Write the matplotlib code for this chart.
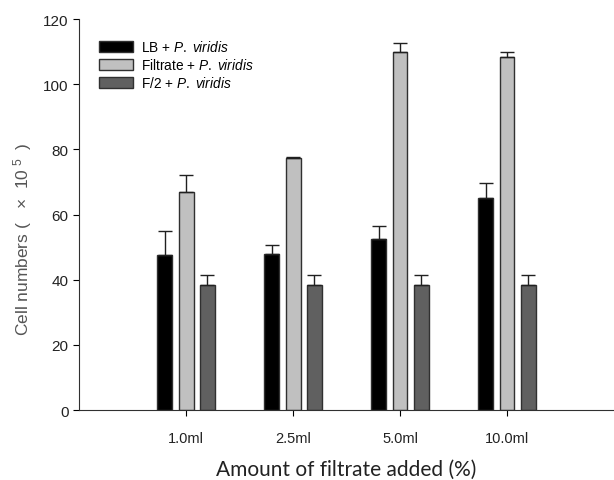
import numpy as np
import matplotlib
matplotlib.use('Agg')
from matplotlib import pyplot as plt
from matplotlib.patches import Patch

plt.rcParams['font.family'] = ['Liberation Sans', 'DejaVu Sans']
plt.rcParams['mathtext.fontset'] = 'custom'
plt.rcParams['mathtext.rm'] = 'Liberation Sans'
plt.rcParams['mathtext.it'] = 'Liberation Sans:italic'

doses = ['1.0ml', '2.5ml', '5.0ml', '10.0ml']
lb_mean = [47.7, 48.0, 52.5, 65.1]
lb_err = [7.3, 2.5, 4.1, 4.6]
filtrate_mean = [66.9, 77.3, 110.0, 108.3]
filtrate_err = [5.2, 0.3, 2.6, 1.7]
f2_mean = [38.5, 38.5, 38.5, 38.5]
f2_err = [2.9, 2.9, 2.9, 2.9]

series = [
    ('LB + ', lb_mean, lb_err, '#000000'),
    ('Filtrate + ', filtrate_mean, filtrate_err, '#c0c0c0'),
    ('F/2 + ', f2_mean, f2_err, '#606060'),
]

fig = plt.figure(figsize=(6.14, 4.81), dpi=100)
ax = fig.add_axes([0.1287, 0.1455, 0.8713, 0.8129])

x = np.arange(len(doses))
width = 0.14
offsets = [-0.2, 0.0, 0.2]

handles = []
for (name, mean, err, color), off in zip(series, offsets):
    ax.bar(x + off, mean, width, color=color, edgecolor='#303030', linewidth=1.0,
           yerr=[np.zeros(len(err)), err], capsize=5,
           error_kw=dict(ecolor='#202020', elinewidth=1.0, capthick=1.0))
    handles.append(Patch(facecolor=color, edgecolor='#303030', linewidth=1.0,
                         label=name + r'$\it{P.}$ $\it{viridis}$'))

ax.set_xlim(-1.0, 4.0)
ax.set_ylim(0, 120)
ax.set_yticks(np.arange(0, 121, 20))
ax.set_xticks(x)
ax.set_xticklabels(doses, fontsize=10.5, color='#222222')
ax.tick_params(axis='y', labelsize=11, labelcolor='#222222', direction='out', length=4)
ax.tick_params(axis='x', direction='out', length=4, pad=11)

for s in ['top', 'right']:
    ax.spines[s].set_visible(False)
ax.spines['left'].set_color('#303030')
ax.spines['bottom'].set_color('#303030')

ax.set_ylabel('Cell numbers (   \u00d7  10$^{\\ 5}$  )', fontsize=12.5, color='#555555')
ax.yaxis.set_label_coords(-0.085, 0.44)
ax.set_xlabel('Amount of filtrate added (%)', fontsize=15, family=['Lato', 'DejaVu Sans'],
              color='#222222', labelpad=10)

ax.legend(handles=handles, loc='upper left', bbox_to_anchor=(0.015, 0.98), frameon=False,
          fontsize=9.8, handlelength=2.5, handleheight=0.85, labelspacing=0.22, handletextpad=0.6)

plt.savefig('out.png', dpi=100)
